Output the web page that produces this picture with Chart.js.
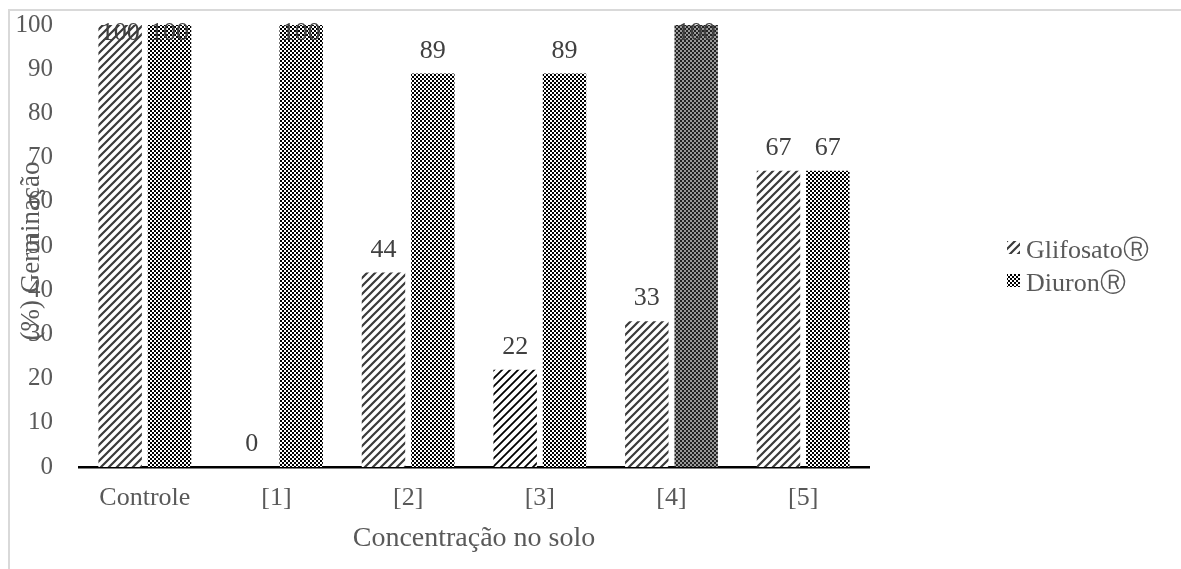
<!DOCTYPE html>
<html>
<head>
<meta charset="utf-8">
<script src="https://cdn.jsdelivr.net/npm/chart.js@4.4.1/dist/chart.umd.min.js"></script>
<style>
  html, body { margin: 0; padding: 0; background: #fff; }
  #wrap { position: absolute; left: 0; top: 0; width: 1181px; height: 569px; }
  #frame { position: absolute; left: 8px; top: 9px; width: 1200px; height: 600px;
           border-top: 2px solid #d9d9d9; border-left: 2px solid #d9d9d9; }
  canvas { position: absolute; left: 0; top: 0; }
</style>
</head>
<body>
<div id="wrap">
  <div id="frame"></div>
  <canvas id="chart" width="1181" height="569"></canvas>
</div>
<script>
const categories = ['Controle', '[1]', '[2]', '[3]', '[4]', '[5]'];
const glifosato = [100, 0, 44, 22, 33, 67];
const diuron = [100, 100, 89, 89, 100, 67];
const seriesNames = ['Glifosato\u24C7', 'Diuron\u24C7'];
const yTitle = '(%) Germinação';
const xTitle = 'Concentração no solo';

const serif = "'Liberation Serif', 'DejaVu Serif', serif";
const grey = '#595959';

// patterns
function stripePattern(color, width) {
    const c = document.createElement('canvas');
    c.width = 8; c.height = 8;
    const g = c.getContext('2d');
    g.fillStyle = '#fff';
    g.fillRect(0, 0, 8, 8);
    g.strokeStyle = color;
    g.lineWidth = width;
    g.beginPath();
    g.moveTo(-2, 10); g.lineTo(10, -2);
    g.moveTo(-6, 6); g.lineTo(6, -6);
    g.moveTo(2, 14); g.lineTo(14, 2);
    g.stroke();
    return g.createPattern(c, 'repeat');
}

function checkerPattern(dark, light, cell) {
    const c = document.createElement('canvas');
    c.width = cell * 2; c.height = cell * 2;
    const g = c.getContext('2d');
    g.fillStyle = light;
    g.fillRect(0, 0, cell * 2, cell * 2);
    g.fillStyle = dark;
    g.fillRect(0, 0, cell, cell);
    g.fillRect(cell, cell, cell, cell);
    return g.createPattern(c, 'repeat');
}

const ctx = document.getElementById('chart').getContext('2d');
const softStripes = stripePattern('#3a3a3a', 2.2);
const hardStripes = stripePattern('#000', 1.8);
const checker = checkerPattern('#000', '#fff', 2);
const greyChecker = checkerPattern('#222', '#9a9a9a', 2);

const glifosatoFill = categories.map((c, i) => i === 3 ? hardStripes : softStripes);
const diuronFill = categories.map((c, i) => i === 4 ? greyChecker : checker);

// value labels, y title and legend drawn by hand
const extras = {
    id: 'extras',
    afterDatasetsDraw(chart) {
        const g = chart.ctx;
        const area = chart.chartArea;
        g.save();
        g.font = '26px ' + serif;
        g.fillStyle = '#404040';
        g.textAlign = 'center';
        g.textBaseline = 'alphabetic';
        chart.data.datasets.forEach((ds, di) => {
            chart.getDatasetMeta(di).data.forEach((bar, i) => {
                let y = bar.y - 16;
                if (y < area.top + 15) y = area.top + 15;
                g.fillText(String(ds.data[i]), bar.x, y);
            });
        });

        // y axis title
        g.fillStyle = grey;
        g.font = '27px ' + serif;
        g.translate(32, 251);
        g.rotate(-Math.PI / 2);
        g.textBaseline = 'middle';
        g.fillText(yTitle, 0, 0);
        g.setTransform(1, 0, 0, 1, 0, 0);

        // legend
        const fills = [softStripes, checker];
        g.font = '26px ' + serif;
        g.textAlign = 'left';
        g.textBaseline = 'alphabetic';
        seriesNames.forEach((name, i) => {
            const y = 258 + i * 33;
            g.fillStyle = fills[i];
            g.fillRect(1007, y - 17, 13, 13);
            g.fillStyle = grey;
            g.fillText(name, 1026, y);
        });
        g.restore();
    }
};

new Chart(ctx, {
    type: 'bar',
    data: {
        labels: categories,
        datasets: [{
            label: seriesNames[0],
            data: glifosato,
            backgroundColor: glifosatoFill,
            borderWidth: 0
        }, {
            label: seriesNames[1],
            data: diuron,
            backgroundColor: diuronFill,
            borderWidth: 0
        }]
    },
    options: {
        responsive: false,
        animation: false,
        categoryPercentage: 0.75,
        barPercentage: 0.88,
        layout: {
            padding: { left: 0, right: 312, top: 25, bottom: 0 }
        },
        plugins: {
            legend: { display: false },
            tooltip: { enabled: false }
        },
        scales: {
            x: {
                grid: { display: false, drawTicks: false },
                border: { display: true, color: '#000', width: 2.5 },
                ticks: { color: grey, font: { family: serif, size: 26 }, padding: 16 },
                title: {
                    display: true,
                    text: xTitle,
                    color: grey,
                    font: { family: serif, size: 28 },
                    padding: { top: 0, bottom: 14 }
                },
                afterFit(scale) {
                    scale.height = 102;
                    scale.paddingLeft = 0;
                    scale.paddingRight = 0;
                }
            },
            y: {
                min: 0,
                max: 100,
                grid: { display: false, drawTicks: false },
                border: { display: false },
                ticks: { stepSize: 10, color: grey, font: { family: serif, size: 25 }, padding: 26 },
                afterFit(scale) {
                    scale.width = 79;
                    scale.paddingTop = 0;
                    scale.paddingBottom = 0;
                }
            }
        }
    },
    plugins: [extras]
});
</script>
</body>
</html>
